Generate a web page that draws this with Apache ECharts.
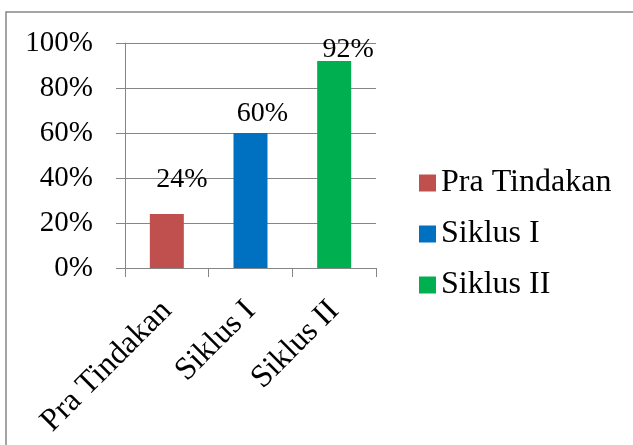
<!DOCTYPE html>
<html>
<head>
<meta charset="utf-8">
<script src="https://cdn.jsdelivr.net/npm/echarts@6/dist/echarts.min.js"></script>
<style>
html,body{margin:0;padding:0;background:#fff;}
#chart{width:633px;height:445px;}
</style>
</head>
<body>
<div id="chart"></div>
<script>
const categories = ['Pra Tindakan', 'Siklus I', 'Siklus II'];
const values = [0.24, 0.60, 0.92];
const colors = ['#C0504D', '#0070C0', '#00B050'];
const yTicks = [0, 0.2, 0.4, 0.6, 0.8, 1.0];
const labelOffsets = [[15, -20], [12, -5], [14, 3]];

const font = '"Liberation Serif", "Times New Roman", serif';
const chart = echarts.init(document.getElementById('chart'));

const series = categories.map((name, i) => ({
  name: name,
  type: 'bar',
  barWidth: 34,
  barGap: '-100%',
  itemStyle: { color: colors[i] },
  label: {
    show: true,
    position: 'top',
    distance: 0,
    offset: labelOffsets[i],
    fontFamily: font,
    fontSize: 28,
    color: '#000',
    formatter: p => Math.round(p.value * 100) + '%'
  },
  data: categories.map((c, j) => (j === i ? values[i] : '-'))
}));

chart.setOption({
  animation: false,
  backgroundColor: '#fff',
  graphic: [{
    type: 'rect',
    shape: { x: 6, y: 12, width: 800, height: 600 },
    style: { fill: 'none', stroke: '#868686', lineWidth: 1.5 },
    silent: true
  }],
  grid: { left: 125, top: 43, width: 251, height: 225 },
  legend: {
    orient: 'vertical',
    left: 419,
    top: 167,
    padding: 0,
    itemWidth: 17,
    itemHeight: 17,
    itemGap: 19,
    icon: 'rect',
    textStyle: { fontFamily: font, fontSize: 32, color: '#000' },
    data: categories
  },
  xAxis: {
    type: 'category',
    data: categories,
    axisLine: { show: true, lineStyle: { color: '#868686', width: 1 } },
    axisTick: { show: true, length: 9, lineStyle: { color: '#868686' } },
    axisLabel: {
      rotate: 45,
      margin: 38,
      interval: 0,
      fontFamily: font,
      fontSize: 32,
      color: '#000'
    }
  },
  yAxis: {
    type: 'value',
    min: 0,
    max: 1,
    interval: 0.2,
    axisLine: { show: true, lineStyle: { color: '#868686', width: 1 } },
    axisTick: { show: true, length: 9, lineStyle: { color: '#868686' } },
    splitLine: { show: true, lineStyle: { color: '#868686', width: 1 } },
    axisLabel: {
      margin: 32,
      fontFamily: font,
      fontSize: 29,
      color: '#000',
      formatter: v => {
        const t = yTicks.find(x => Math.abs(x - v) < 1e-9);
        return Math.round((t !== undefined ? t : v) * 100) + '%';
      }
    }
  },
  series: series
});
</script>
</body>
</html>
